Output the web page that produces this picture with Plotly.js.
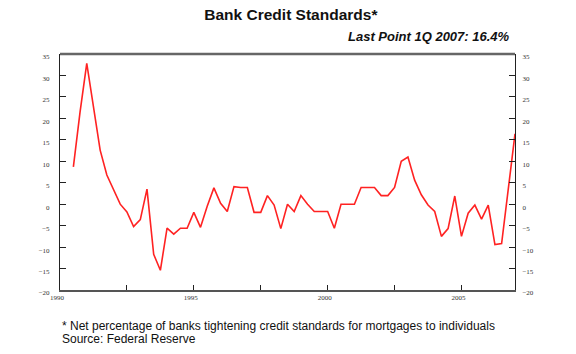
<!DOCTYPE html>
<html>
<head>
<meta charset="utf-8">
<script src="https://cdn.plot.ly/plotly-3.0.1.min.js"></script>
<style>
html,body{margin:0;padding:0;background:#fff;}
#chart{width:576px;height:354px;}
</style>
</head>
<body>
<div id="chart"></div>
<script>
// Quarterly observations, 1990 Q3 through 2007 Q1 (decimal year)
const quarters = [
  1990.5, 1990.75,
  1991.0, 1991.25, 1991.5, 1991.75,
  1992.0, 1992.25, 1992.5, 1992.75,
  1993.0, 1993.25, 1993.5, 1993.75,
  1994.0, 1994.25, 1994.5, 1994.75,
  1995.0, 1995.25, 1995.5, 1995.75,
  1996.0, 1996.25, 1996.5, 1996.75,
  1997.0, 1997.25, 1997.5, 1997.75,
  1998.0, 1998.25, 1998.5, 1998.75,
  1999.0, 1999.25, 1999.5, 1999.75,
  2000.0, 2000.25, 2000.5, 2000.75,
  2001.0, 2001.25, 2001.5, 2001.75,
  2002.0, 2002.25, 2002.5, 2002.75,
  2003.0, 2003.25, 2003.5, 2003.75,
  2004.0, 2004.25, 2004.5, 2004.75,
  2005.0, 2005.25, 2005.5, 2005.75,
  2006.0, 2006.25, 2006.5, 2006.75,
  2007.0
];
// Net percentage of banks tightening standards
const tightening = [
  8.7, 21.5,
  32.8, 22.6, 12.6, 6.8,
  3.5, 0.0, -1.8, -5.2,
  -3.6, 3.5, -11.7, -15.4,
  -5.6, -7.0, -5.6, -5.6,
  -1.9, -5.4, -0.5, 3.8,
  0.2, -1.7, 4.1, 3.9,
  3.9, -1.9, -1.9, 2.0,
  -0.2, -5.7, 0.0, -1.7,
  2.0, 0.0, -1.7, -1.7,
  -1.7, -5.6, 0.0, 0.0,
  0.0, 3.9, 3.9, 3.9,
  2.0, 2.0, 3.9, 10.0,
  11.0, 5.6, 2.2, -0.2,
  -1.7, -7.5, -5.7, 1.9,
  -7.5, -2.1, -0.2, -3.5,
  -0.2, -9.4, -9.2, 3.5,
  16.4
];
const xTickVals = [1990, 1992.5, 1995, 1997.5, 2000, 2002.5, 2005];
const xTickText = ["1990", "", "1995", "", "2000", "", "2005"];
const yTickVals = [-20, -15, -10, -5, 0, 5, 10, 15, 20, 25, 30, 35];

const tickFont = {family: "Liberation Serif", size: 7, color: "#333"};
const textFont = {family: "Liberation Sans, Arial, sans-serif", size: 12, color: "#111"};

const trace = {
  x: quarters, y: tightening, type: "scatter", mode: "lines",
  line: {color: "#ff2222", width: 1.6}, hoverinfo: "skip", showlegend: false
};
const trace2 = {
  x: [quarters[0]], y: [tightening[0]], yaxis: "y2", type: "scatter", mode: "lines",
  line: {color: "rgba(0,0,0,0)"}, hoverinfo: "skip", showlegend: false
};

const layout = {
  width: 576, height: 354,
  margin: {l: 60, r: 61, t: 54, b: 64, pad: 0},
  paper_bgcolor: "#fff", plot_bgcolor: "#fff",
  title: {
    text: "<b>Bank Credit Standards*</b>",
    font: {family: "Liberation Sans, Arial, sans-serif", size: 15.5, color: "#111"},
    x: 0.505, xanchor: "center", y: 1 - 15/354, yanchor: "middle", yref: "container"
  },
  xaxis: {
    range: [1990, 2007], tickmode: "array", tickvals: xTickVals, ticktext: xTickText,
    ticks: "inside", ticklen: 5, tickwidth: 1, tickcolor: "#222",
    showline: true, linecolor: "#555", linewidth: 2,
    showgrid: false, zeroline: false, tickfont: tickFont, ticklabelshift: -3
  },
  yaxis: {
    range: [-20, 35], tickmode: "array", tickvals: yTickVals,
    ticks: "inside", ticklen: 6, tickwidth: 1, tickcolor: "#222",
    showline: true, linecolor: "#222", linewidth: 1,
    showgrid: false, zeroline: false, tickfont: tickFont,
    ticklabelstandoff: 8, ticklabelshift: 3
  },
  yaxis2: {
    range: [-20, 35], tickmode: "array", tickvals: yTickVals,
    overlaying: "y", side: "right",
    ticks: "inside", ticklen: 6, tickwidth: 1, tickcolor: "#222",
    showline: true, linecolor: "#222", linewidth: 1,
    showgrid: false, zeroline: false, tickfont: tickFont,
    ticklabelstandoff: 5, ticklabelshift: 3
  },
  shapes: [
    {type: "line", xref: "paper", yref: "paper", x0: 0, x1: 1, y0: 1, y1: 1,
     line: {color: "#666", width: 2.5}}
  ],
  annotations: [
    {text: "<b><i>Last Point 1Q 2007: 16.4%</i></b>", xref: "paper", yref: "paper",
     x: 0.993, y: (290 - 36) / 236, xanchor: "right", yanchor: "middle", showarrow: false,
     font: {family: "Liberation Sans, Arial, sans-serif", size: 13, color: "#111"}},
    {text: "* Net percentage of banks tightening credit standards for mortgages to individuals",
     xref: "paper", yref: "paper", x: 0, y: (290 - 326) / 236, xanchor: "left", yanchor: "middle",
     showarrow: false, font: textFont},
    {text: "Source: Federal Reserve",
     xref: "paper", yref: "paper", x: 0, y: (290 - 339) / 236, xanchor: "left", yanchor: "middle",
     showarrow: false, font: textFont}
  ]
};

Plotly.newPlot("chart", [trace, trace2], layout, {displayModeBar: false, staticPlot: true});
</script>
</body>
</html>
